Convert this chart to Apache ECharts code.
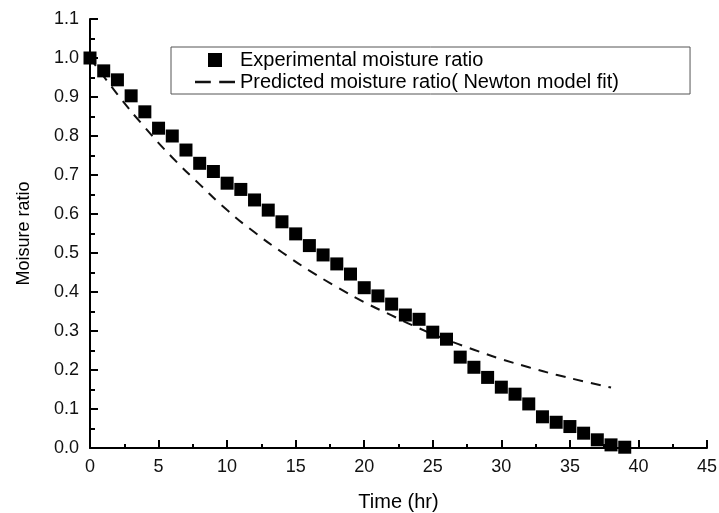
<!DOCTYPE html>
<html>
<head>
<meta charset="utf-8">
<title>Moisture ratio vs time</title>
<script src="https://cdn.jsdelivr.net/npm/echarts@6/dist/echarts.min.js"></script>
<style>
  html, body { margin: 0; padding: 0; background: #fff; }
  #chart { width: 719px; height: 513px; }
</style>
</head>
<body>
<div id="chart"></div>
<script>
// experimental points, one per hour
const expTime = [0, 1, 2, 3, 4, 5, 6, 7, 8, 9, 10, 11, 12, 13, 14, 15, 16, 17, 18, 19,
  20, 21, 22, 23, 24, 25, 26, 27, 28, 29, 30, 31, 32, 33, 34, 35, 36, 37, 38, 39];
const expRatio = [1.000, 0.967, 0.944, 0.903, 0.862, 0.820, 0.800, 0.764, 0.730, 0.709,
  0.679, 0.663, 0.636, 0.610, 0.580, 0.549, 0.519, 0.495, 0.472, 0.446,
  0.411, 0.390, 0.369, 0.341, 0.330, 0.297, 0.279, 0.233, 0.207, 0.181,
  0.156, 0.138, 0.113, 0.080, 0.066, 0.055, 0.038, 0.021, 0.008, 0.002];

// dashed fit curve, sampled every 2 hours
const fitTime = [0, 2, 4, 6, 8, 10, 12, 14, 16, 18, 20, 22, 24, 26, 28, 30, 32, 34, 36, 38];
const fitRatio = [1.000, 0.907, 0.822, 0.745, 0.676, 0.610, 0.553, 0.502, 0.455, 0.413,
  0.374, 0.340, 0.307, 0.278, 0.252, 0.228, 0.207, 0.188, 0.171, 0.155];

const expName = 'Experimental moisture ratio';
const fitName = 'Predicted moisture ratio( Newton model fit)';

const font = '"Liberation Sans", Arial, sans-serif';
const chart = echarts.init(document.getElementById('chart'));

chart.setOption({
  backgroundColor: '#fff',
  animation: false,
  grid: { left: 90, right: 12, top: 19, bottom: 65, outerBoundsMode: 'none', containLabel: false },
  legend: {
    orient: 'vertical',
    left: 171,
    top: 47,
    padding: [3, 71, 2, 24],
    itemGap: 2,
    itemWidth: 40,
    itemHeight: 14,
    borderColor: '#555',
    borderWidth: 1,
    borderRadius: 0,
    textStyle: { fontFamily: font, fontSize: 20, color: '#000' },
    data: [
      // square marker, kept square inside the 40px slot
      { name: expName, icon: 'path://M0,0h12v12h-12z', itemStyle: { color: '#000' } },
      // two dashes like the dashed fit line
      { name: fitName, icon: 'path://M0,0h15v2.6h-15z M23,0h15v2.6h-15z', itemStyle: { color: '#111' } }
    ]
  },
  xAxis: {
    type: 'value',
    min: 0,
    max: 45,
    interval: 5,
    name: 'Time (hr)',
    nameLocation: 'middle',
    nameGap: 44,
    nameTextStyle: { fontFamily: font, fontSize: 20, color: '#000' },
    axisLine: { lineStyle: { color: '#000', width: 2 } },
    axisTick: { inside: true, length: 8, lineStyle: { color: '#000', width: 2 } },
    minorTick: { show: true, splitNumber: 2, length: 4, lineStyle: { color: '#000', width: 2 } },
    axisLabel: { fontFamily: font, fontSize: 18, color: '#111', margin: 10 },
    splitLine: { show: false }
  },
  yAxis: {
    type: 'value',
    min: 0,
    max: 1.1,
    interval: 0.1,
    name: 'Moisure ratio',
    nameLocation: 'middle',
    nameGap: 57,
    nameRotate: 90,
    nameTextStyle: { fontFamily: font, fontSize: 18, color: '#000' },
    axisLine: { show: true, lineStyle: { color: '#000', width: 2 } },
    axisTick: { show: true, inside: true, length: 8, lineStyle: { color: '#000', width: 2 } },
    minorTick: { show: true, splitNumber: 2, length: 5, lineStyle: { color: '#000', width: 2 } },
    axisLabel: {
      fontFamily: font, fontSize: 18, color: '#111', margin: 11,
      formatter: v => v.toFixed(1)
    },
    splitLine: { show: false }
  },
  series: [
    {
      name: expName,
      type: 'scatter',
      symbol: 'rect',
      symbolSize: 13,
      itemStyle: { color: '#000', opacity: 1 },
      data: expTime.map((t, i) => [t, expRatio[i]]),
      z: 3
    },
    {
      name: fitName,
      type: 'line',
      smooth: true,
      symbol: 'none',
      lineStyle: { color: '#111', width: 2, type: [10, 8] },
      itemStyle: { color: '#111' },
      data: fitTime.map((t, i) => [t, fitRatio[i]]),
      z: 2
    }
  ]
});
</script>
</body>
</html>
